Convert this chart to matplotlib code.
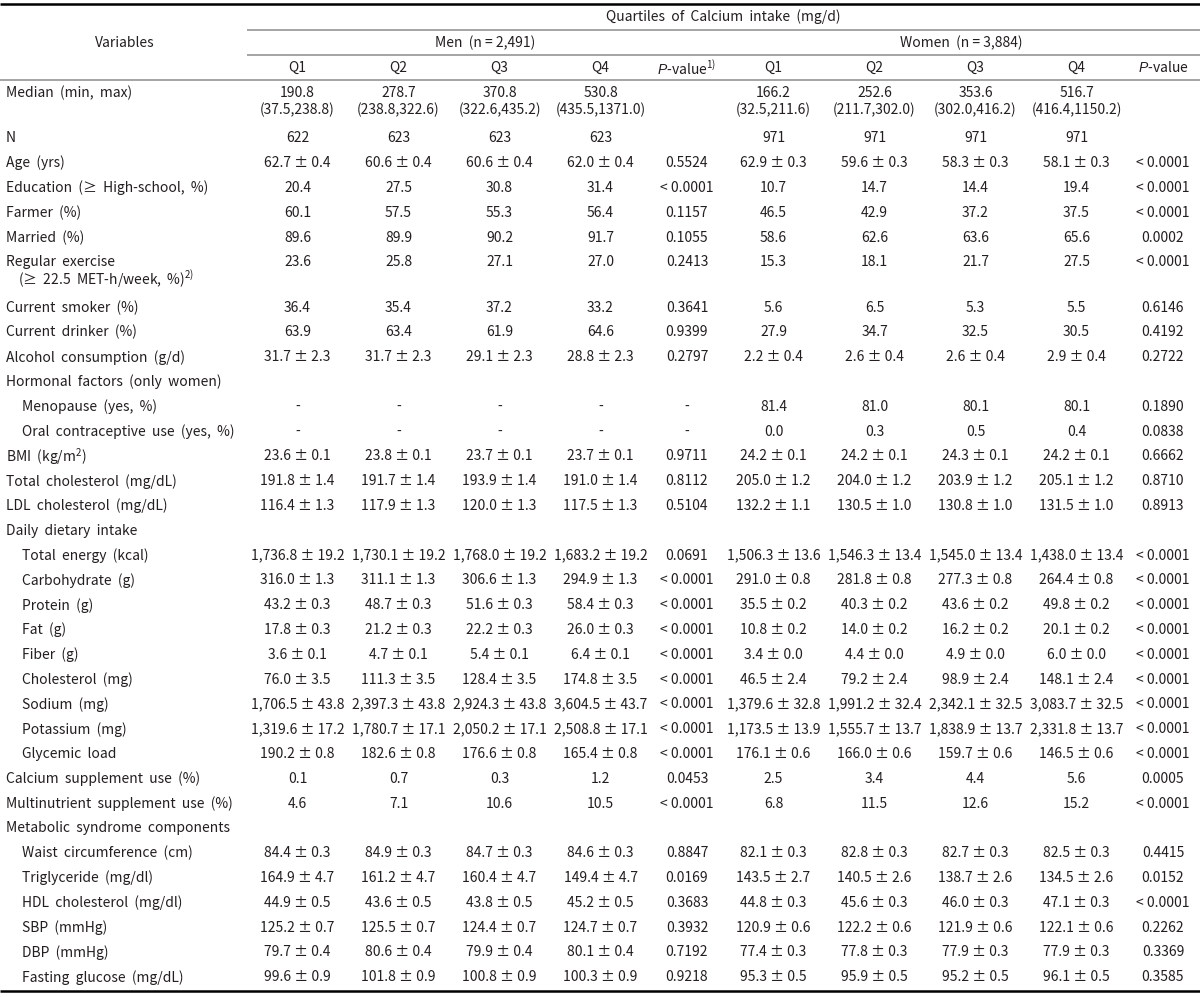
import matplotlib
matplotlib.use("Agg")
import matplotlib.pyplot as plt

plt.rcParams['font.family'] = ['Noto Sans CJK KR', 'DejaVu Sans']
plt.rcParams['mathtext.fontset'] = 'custom'
plt.rcParams['mathtext.rm'] = 'Noto Sans CJK KR'
plt.rcParams['mathtext.it'] = 'Liberation Sans:italic'

# table content
variables = [
    "Median (min, max)", "N", "Age (yrs)", "Education (≥ High-school, %)", "Farmer (%)",
    "Married (%)", "Regular exercise\n(≥ 22.5 MET-h/week, %)$^{2)}$", "Current smoker (%)",
    "Current drinker (%)", "Alcohol consumption (g/d)", "Hormonal factors (only women)",
    "Menopause (yes, %)", "Oral contraceptive use (yes, %)", "BMI (kg/m$^{2}$)",
    "Total cholesterol (mg/dL)", "LDL cholesterol (mg/dL)", "Daily dietary intake",
    "Total energy (kcal)", "Carbohydrate (g)", "Protein (g)", "Fat (g)", "Fiber (g)",
    "Cholesterol (mg)", "Sodium (mg)", "Potassium (mg)", "Glycemic load",
    "Calcium supplement use (%)", "Multinutrient supplement use (%)",
    "Metabolic syndrome components", "Waist circumference (cm)", "Triglyceride (mg/dl)",
    "HDL cholesterol (mg/dl)", "SBP (mmHg)", "DBP (mmHg)", "Fasting glucose (mg/dL)"]

indented = {"Menopause (yes, %)", "Oral contraceptive use (yes, %)", "Total energy (kcal)",
            "Carbohydrate (g)", "Protein (g)", "Fat (g)", "Fiber (g)", "Cholesterol (mg)",
            "Sodium (mg)", "Potassium (mg)", "Glycemic load", "Waist circumference (cm)",
            "Triglyceride (mg/dl)", "HDL cholesterol (mg/dl)", "SBP (mmHg)", "DBP (mmHg)",
            "Fasting glucose (mg/dL)"}

men_q1 = ["190.8\n(37.5,238.8)", "622", "62.7 ± 0.4", "20.4", "60.1", "89.6", "23.6", "36.4", "63.9",
          "31.7 ± 2.3", "", "-", "-", "23.6 ± 0.1", "191.8 ± 1.4", "116.4 ± 1.3", "",
          "1,736.8 ± 19.2", "316.0 ± 1.3", "43.2 ± 0.3", "17.8 ± 0.3", "3.6 ± 0.1", "76.0 ± 3.5",
          "1,706.5 ± 43.8", "1,319.6 ± 17.2", "190.2 ± 0.8", "0.1", "4.6", "",
          "84.4 ± 0.3", "164.9 ± 4.7", "44.9 ± 0.5", "125.2 ± 0.7", "79.7 ± 0.4", "99.6 ± 0.9"]
men_q2 = ["278.7\n(238.8,322.6)", "623", "60.6 ± 0.4", "27.5", "57.5", "89.9", "25.8", "35.4", "63.4",
          "31.7 ± 2.3", "", "-", "-", "23.8 ± 0.1", "191.7 ± 1.4", "117.9 ± 1.3", "",
          "1,730.1 ± 19.2", "311.1 ± 1.3", "48.7 ± 0.3", "21.2 ± 0.3", "4.7 ± 0.1", "111.3 ± 3.5",
          "2,397.3 ± 43.8", "1,780.7 ± 17.1", "182.6 ± 0.8", "0.7", "7.1", "",
          "84.9 ± 0.3", "161.2 ± 4.7", "43.6 ± 0.5", "125.5 ± 0.7", "80.6 ± 0.4", "101.8 ± 0.9"]
men_q3 = ["370.8\n(322.6,435.2)", "623", "60.6 ± 0.4", "30.8", "55.3", "90.2", "27.1", "37.2", "61.9",
          "29.1 ± 2.3", "", "-", "-", "23.7 ± 0.1", "193.9 ± 1.4", "120.0 ± 1.3", "",
          "1,768.0 ± 19.2", "306.6 ± 1.3", "51.6 ± 0.3", "22.2 ± 0.3", "5.4 ± 0.1", "128.4 ± 3.5",
          "2,924.3 ± 43.8", "2,050.2 ± 17.1", "176.6 ± 0.8", "0.3", "10.6", "",
          "84.7 ± 0.3", "160.4 ± 4.7", "43.8 ± 0.5", "124.4 ± 0.7", "79.9 ± 0.4", "100.8 ± 0.9"]
men_q4 = ["530.8\n(435.5,1371.0)", "623", "62.0 ± 0.4", "31.4", "56.4", "91.7", "27.0", "33.2", "64.6",
          "28.8 ± 2.3", "", "-", "-", "23.7 ± 0.1", "191.0 ± 1.4", "117.5 ± 1.3", "",
          "1,683.2 ± 19.2", "294.9 ± 1.3", "58.4 ± 0.3", "26.0 ± 0.3", "6.4 ± 0.1", "174.8 ± 3.5",
          "3,604.5 ± 43.7", "2,508.8 ± 17.1", "165.4 ± 0.8", "1.2", "10.5", "",
          "84.6 ± 0.3", "149.4 ± 4.7", "45.2 ± 0.5", "124.7 ± 0.7", "80.1 ± 0.4", "100.3 ± 0.9"]
men_p = ["", "", "0.5524", "< 0.0001", "0.1157", "0.1055", "0.2413", "0.3641", "0.9399",
         "0.2797", "", "-", "-", "0.9711", "0.8112", "0.5104", "",
         "0.0691", "< 0.0001", "< 0.0001", "< 0.0001", "< 0.0001", "< 0.0001",
         "< 0.0001", "< 0.0001", "< 0.0001", "0.0453", "< 0.0001", "",
         "0.8847", "0.0169", "0.3683", "0.3932", "0.7192", "0.9218"]

women_q1 = ["166.2\n(32.5,211.6)", "971", "62.9 ± 0.3", "10.7", "46.5", "58.6", "15.3", "5.6", "27.9",
            "2.2 ± 0.4", "", "81.4", "0.0", "24.2 ± 0.1", "205.0 ± 1.2", "132.2 ± 1.1", "",
            "1,506.3 ± 13.6", "291.0 ± 0.8", "35.5 ± 0.2", "10.8 ± 0.2", "3.4 ± 0.0", "46.5 ± 2.4",
            "1,379.6 ± 32.8", "1,173.5 ± 13.9", "176.1 ± 0.6", "2.5", "6.8", "",
            "82.1 ± 0.3", "143.5 ± 2.7", "44.8 ± 0.3", "120.9 ± 0.6", "77.4 ± 0.3", "95.3 ± 0.5"]
women_q2 = ["252.6\n(211.7,302.0)", "971", "59.6 ± 0.3", "14.7", "42.9", "62.6", "18.1", "6.5", "34.7",
            "2.6 ± 0.4", "", "81.0", "0.3", "24.2 ± 0.1", "204.0 ± 1.2", "130.5 ± 1.0", "",
            "1,546.3 ± 13.4", "281.8 ± 0.8", "40.3 ± 0.2", "14.0 ± 0.2", "4.4 ± 0.0", "79.2 ± 2.4",
            "1,991.2 ± 32.4", "1,555.7 ± 13.7", "166.0 ± 0.6", "3.4", "11.5", "",
            "82.8 ± 0.3", "140.5 ± 2.6", "45.6 ± 0.3", "122.2 ± 0.6", "77.8 ± 0.3", "95.9 ± 0.5"]
women_q3 = ["353.6\n(302.0,416.2)", "971", "58.3 ± 0.3", "14.4", "37.2", "63.6", "21.7", "5.3", "32.5",
            "2.6 ± 0.4", "", "80.1", "0.5", "24.3 ± 0.1", "203.9 ± 1.2", "130.8 ± 1.0", "",
            "1,545.0 ± 13.4", "277.3 ± 0.8", "43.6 ± 0.2", "16.2 ± 0.2", "4.9 ± 0.0", "98.9 ± 2.4",
            "2,342.1 ± 32.5", "1,838.9 ± 13.7", "159.7 ± 0.6", "4.4", "12.6", "",
            "82.7 ± 0.3", "138.7 ± 2.6", "46.0 ± 0.3", "121.9 ± 0.6", "77.9 ± 0.3", "95.2 ± 0.5"]
women_q4 = ["516.7\n(416.4,1150.2)", "971", "58.1 ± 0.3", "19.4", "37.5", "65.6", "27.5", "5.5", "30.5",
            "2.9 ± 0.4", "", "80.1", "0.4", "24.2 ± 0.1", "205.1 ± 1.2", "131.5 ± 1.0", "",
            "1,438.0 ± 13.4", "264.4 ± 0.8", "49.8 ± 0.2", "20.1 ± 0.2", "6.0 ± 0.0", "148.1 ± 2.4",
            "3,083.7 ± 32.5", "2,331.8 ± 13.7", "146.5 ± 0.6", "5.6", "15.2", "",
            "82.5 ± 0.3", "134.5 ± 2.6", "47.1 ± 0.3", "122.1 ± 0.6", "77.9 ± 0.3", "96.1 ± 0.5"]
women_p = ["", "", "< 0.0001", "< 0.0001", "< 0.0001", "0.0002", "< 0.0001", "0.6146", "0.4192",
           "0.2722", "", "0.1890", "0.0838", "0.6662", "0.8710", "0.8913", "",
           "< 0.0001", "< 0.0001", "< 0.0001", "< 0.0001", "< 0.0001", "< 0.0001",
           "< 0.0001", "< 0.0001", "< 0.0001", "0.0005", "< 0.0001", "",
           "0.4415", "0.0152", "< 0.0001", "0.2262", "0.3369", "0.3585"]

col_labels = ["Q1", "Q2", "Q3", "Q4", "$\\mathit{P}$-value$^{1)}$",
              "Q1", "Q2", "Q3", "Q4", "$\\mathit{P}$-value"]
columns = [men_q1, men_q2, men_q3, men_q4, men_p, women_q1, women_q2, women_q3, women_q4, women_p]

# layout (pixel coords, y downward)
W, H = 1200, 997
left = 247
qw, pw = 101, 72
col_x = []
x = left
for i in range(10):
    w = pw if i in (4, 9) else qw
    col_x.append(x + w / 2)
    x += w

row_h = 24.8
extra_line = 20.5
line_gap = 17
fs = 10
tc = "#231f20"

fig = plt.figure(figsize=(W / 100, H / 100), dpi=100)
ax = fig.add_axes([0, 0, 1, 1])
ax.set_xlim(0, W)
ax.set_ylim(H, 0)
ax.axis("off")

# rules
ax.plot([0, W], [4, 4], color="black", lw=1.8, solid_capstyle="butt")
ax.plot([left, W], [30, 30], color="#8c8c8c", lw=1.1, solid_capstyle="butt")
ax.plot([left, W], [55, 55], color="#8c8c8c", lw=1.1, solid_capstyle="butt")
ax.plot([0, W], [80, 80], color="#8c8c8c", lw=1.1, solid_capstyle="butt")

# header
ax.text(125, 43, "Variables", ha="center", va="center", fontsize=fs, color=tc)
ax.text((left + W) / 2, 17, "Quartiles  of  Calcium  intake  (mg/d)", ha="center", va="center",
        fontsize=fs, color=tc)
men_mid = (left + left + 4 * qw + pw) / 2
women_mid = (left + 4 * qw + pw + W) / 2
ax.text(men_mid, 43, "Men  (n = 2,491)", ha="center", va="center", fontsize=fs, color=tc)
ax.text(women_mid, 43, "Women  (n = 3,884)", ha="center", va="center", fontsize=fs, color=tc)
for cx, lab in zip(col_x, col_labels):
    ax.text(cx, 68, lab, ha="center", va="center", fontsize=fs, color=tc)

# body
y = 93
for r, lab in enumerate(variables):
    lines = lab.split("\n")
    base = 22 if lab in indented else 6
    for k, part in enumerate(lines):
        ind = base + (12 if k > 0 else 0)
        ax.text(ind, y + k * line_gap, part.replace(" ", "  "), ha="left", va="center",
                fontsize=fs, color=tc)
    nlines = len(lines)
    for cx, col in zip(col_x, columns):
        vals = col[r].split("\n")
        for k, v in enumerate(vals):
            ax.text(cx, y + k * line_gap, v, ha="center", va="center", fontsize=fs, color=tc)
        nlines = max(nlines, len(vals))
    y += row_h + (nlines - 1) * extra_line

ax.plot([0, W], [991, 991], color="black", lw=1.8, solid_capstyle="butt")

fig.savefig("out.png", dpi=100)
